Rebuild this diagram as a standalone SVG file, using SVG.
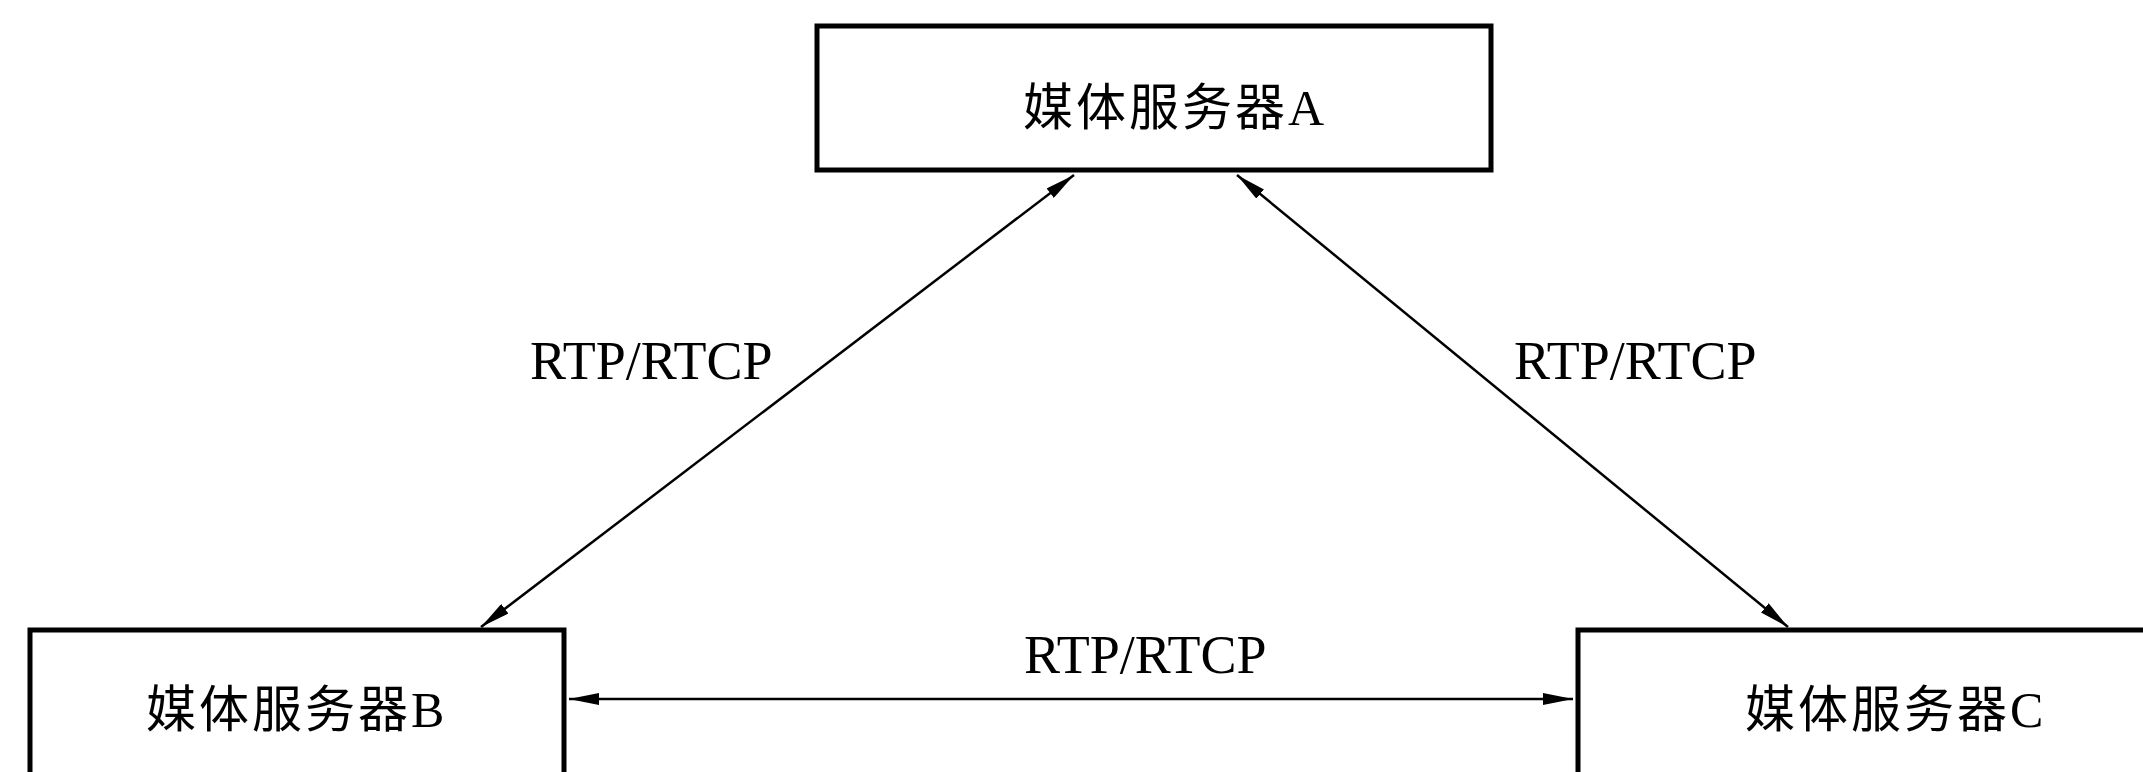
<svg xmlns="http://www.w3.org/2000/svg" width="2143" height="772" viewBox="0 0 2143 772">
<style>
.box{fill:#fff;stroke:#000;stroke-width:5}
.node{font-family:"Liberation Serif","Noto Sans CJK SC",serif;font-size:50px;letter-spacing:3px;fill:#000}
.lbl{font-family:"Liberation Serif","Noto Sans CJK SC",serif;font-size:54px;fill:#000}
.conn{stroke:#000;stroke-width:2.5;fill:none;marker-start:url(#ah);marker-end:url(#ah)}
</style>
<defs>
<marker id="ah" viewBox="0 0 30 12" refX="30" refY="6" markerWidth="30" markerHeight="12" markerUnits="userSpaceOnUse" orient="auto-start-reverse">
<path d="M0,0 L30,6 L0,12 z" fill="#000"/>
</marker>
</defs>
<rect width="2143" height="772" fill="#fff"/>
<g id="connectors">
<line class="conn" x1="1074" y1="175" x2="481" y2="627"/>
<line class="conn" x1="1237" y1="175" x2="1788" y2="627"/>
<line class="conn" x1="569" y1="699" x2="1573" y2="699"/>
<text class="lbl" x="530" y="379">RTP/RTCP</text>
<text class="lbl" x="1514" y="379">RTP/RTCP</text>
<text class="lbl" x="1024" y="673">RTP/RTCP</text>
</g>
<g id="nodeA">
<rect class="box" x="817" y="26" width="674" height="144"/>
<text class="node" x="1023" y="125">媒体服务器A</text>
</g>
<g id="nodeB">
<rect class="box" x="30" y="630" width="534" height="200"/>
<text class="node" x="146" y="727">媒体服务器B</text>
</g>
<g id="nodeC">
<rect class="box" x="1578" y="630" width="620" height="200"/>
<text class="node" x="1745" y="727">媒体服务器C</text>
</g>
</svg>
